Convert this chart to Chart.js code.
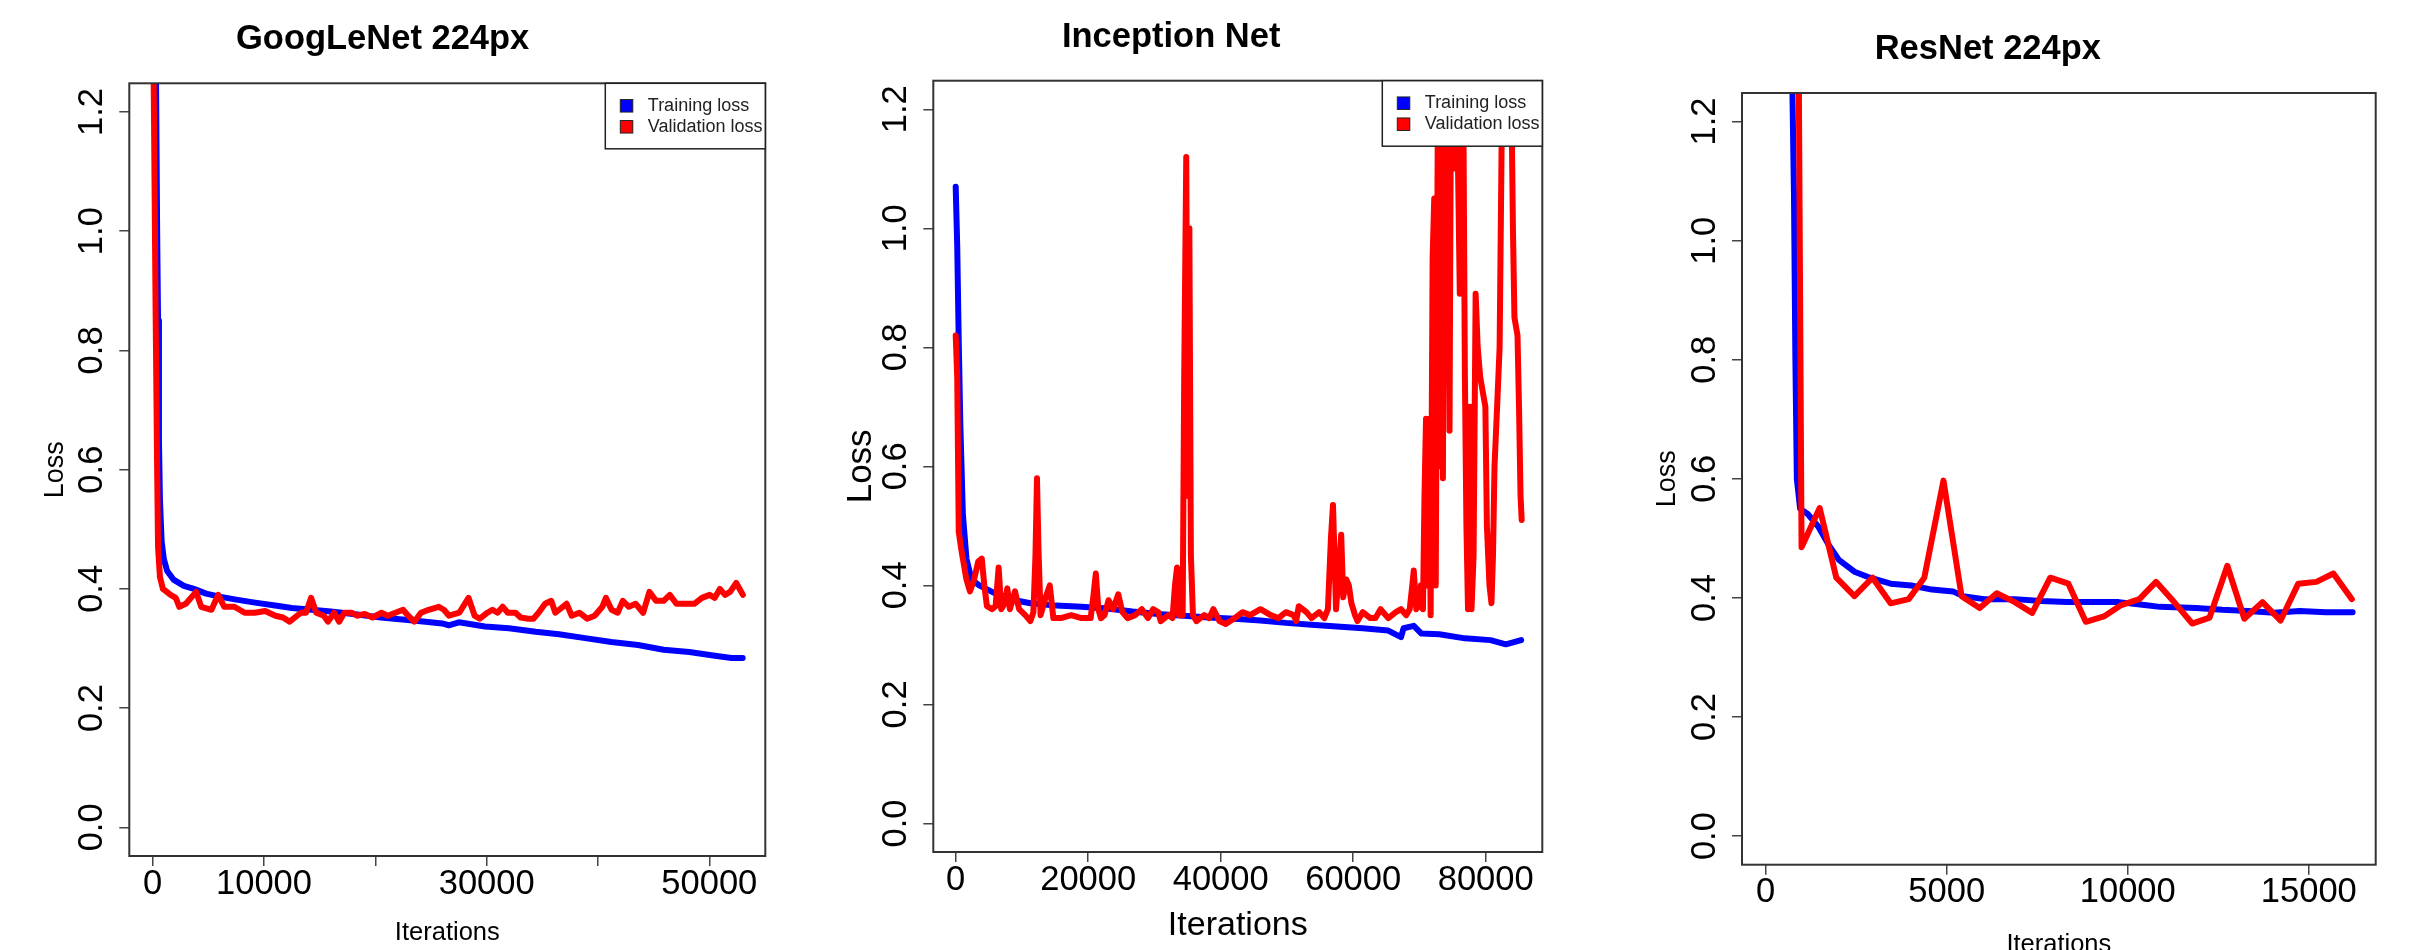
<!DOCTYPE html>
<html>
<head>
<meta charset="utf-8">
<title>Loss curves</title>
<script src="https://cdn.jsdelivr.net/npm/chart.js@4.4.0/dist/chart.umd.min.js"></script>
<style>
  html, body { margin: 0; padding: 0; background: #fff; overflow: hidden; }
  #wrap { position: relative; width: 2413px; height: 950px; }
  canvas { position: absolute; top: 0; }
</style>
</head>
<body>
<div id="wrap">
  <canvas id="c_googlenet" width="800" height="950" style="left:0px"></canvas>
  <canvas id="c_inception" width="800" height="950" style="left:800px"></canvas>
  <canvas id="c_resnet" width="813" height="950" style="left:1600px"></canvas>
</div>
<script>
// ---- data ----
var seriesNames = ['Training loss', 'Validation loss'];

var yTicks = [0, 0.2, 0.4, 0.6, 0.8, 1.0, 1.2];
var yTickLabels = ['0.0', '0.2', '0.4', '0.6', '0.8', '1.0', '1.2'];

// GoogLeNet 224px
var googXTicks = [0, 10000, 20000, 30000, 40000, 50000];
var googXLabels = ['0', '10000', '', '30000', '', '50000'];
var googTrainIter = [0, 300, 400, 480, 560, 650, 800, 1000, 1300, 1900, 2800, 3700, 4800, 6000, 7500, 9200, 11000, 12500, 13800, 16000, 18400, 20500, 22900, 24500, 26000, 26600, 27500, 29850, 32000, 34400, 36500, 39000, 41200, 43600, 45900, 48200, 50500, 52000, 53000];
var googTrain = [2.0, 1.25, 1.0, 0.85, 0.65, 0.55, 0.48, 0.45, 0.43, 0.415, 0.405, 0.40, 0.392, 0.387, 0.382, 0.377, 0.372, 0.368, 0.366, 0.362, 0.357, 0.352, 0.348, 0.345, 0.342, 0.339, 0.344, 0.337, 0.334, 0.328, 0.324, 0.317, 0.311, 0.306, 0.298, 0.294, 0.288, 0.284, 0.284];
var googValIter = [0, 250, 400, 480, 650, 920, 1610, 2070, 2390, 2980, 3900, 4360, 5280, 5880, 6430, 7340, 8260, 9180, 10100, 11020, 11710, 12300, 13310, 13770, 14230, 14690, 15380, 15740, 16300, 16750, 17210, 17900, 18360, 19050, 19740, 20560, 21110, 21800, 22490, 22950, 23500, 24100, 24790, 25700, 26160, 26620, 27540, 28370, 28920, 29380, 30070, 30520, 30980, 31440, 31900, 32590, 33050, 33740, 34200, 34660, 35250, 35800, 36170, 37180, 37640, 38330, 39020, 39700, 40390, 40710, 41220, 41770, 42230, 42780, 43380, 44060, 44620, 45210, 45900, 46450, 47050, 47970, 48650, 49340, 50030, 50490, 50950, 51410, 51870, 52420, 53020];
var googVal = [1.45, 0.89, 0.6, 0.47, 0.42, 0.40, 0.39, 0.385, 0.37, 0.375, 0.395, 0.37, 0.365, 0.39, 0.37, 0.37, 0.36, 0.36, 0.363, 0.355, 0.352, 0.345, 0.36, 0.36, 0.385, 0.36, 0.355, 0.345, 0.36, 0.345, 0.36, 0.36, 0.355, 0.358, 0.352, 0.36, 0.355, 0.36, 0.365, 0.355, 0.345, 0.36, 0.365, 0.37, 0.365, 0.355, 0.36, 0.385, 0.355, 0.35, 0.36, 0.365, 0.36, 0.37, 0.36, 0.36, 0.352, 0.35, 0.35, 0.36, 0.375, 0.38, 0.36, 0.375, 0.355, 0.36, 0.35, 0.355, 0.37, 0.385, 0.365, 0.36, 0.38, 0.37, 0.375, 0.36, 0.395, 0.38, 0.38, 0.39, 0.375, 0.375, 0.375, 0.385, 0.39, 0.385, 0.40, 0.39, 0.395, 0.41, 0.39];

// Inception Net
var incXTicks = [0, 20000, 40000, 60000, 80000];
var incXLabels = ['0', '20000', '40000', '60000', '80000'];
var incTrainIter = [0, 230, 460, 700, 1080, 1620, 2390, 3550, 5870, 8950, 11270, 15130, 18980, 22840, 26700, 30560, 34420, 38280, 42130, 46000, 49850, 53710, 57570, 61430, 65290, 67220, 67600, 69140, 70300, 73000, 76860, 80720, 83040, 85350];
var incTrain = [1.07, 0.97, 0.81, 0.67, 0.52, 0.445, 0.41, 0.40, 0.387, 0.375, 0.37, 0.366, 0.364, 0.361, 0.356, 0.352, 0.349, 0.346, 0.344, 0.341, 0.337, 0.334, 0.331, 0.328, 0.324, 0.313, 0.328, 0.332, 0.319, 0.318, 0.311, 0.308, 0.301, 0.308];
var incValIter = [0, 230, 460, 850, 1620, 2160, 2780, 3400, 3935, 4320, 4710, 5480, 6020, 6480, 6870, 7410, 7790, 8180, 8950, 9570, 10500, 11270, 11730, 12040, 12270, 12500, 12810, 13580, 14200, 14740, 15900, 17440, 18980, 20370, 20760, 21150, 21530, 21920, 22460, 23070, 23770, 24540, 25160, 25930, 27090, 28090, 29020, 29790, 30560, 30950, 32100, 32720, 33100, 33410, 33720, 34260, 34490, 34800, 35030, 35270, 35500, 35810, 36350, 37510, 38280, 38890, 39820, 40750, 42130, 43290, 44450, 46000, 47540, 48700, 49850, 51010, 51400, 51780, 52940, 53710, 54870, 55640, 56180, 56640, 56950, 57410, 57800, 58190, 58490, 58960, 59340, 59730, 60270, 60650, 61430, 62580, 63360, 64130, 65290, 66440, 67220, 67990, 68530, 68920, 69140, 69530, 69910, 70220, 70530, 70760, 70990, 71220, 71450, 71690, 71990, 72230, 72460, 72690, 72850, 73080, 73310, 73540, 73770, 74000, 74230, 74540, 74780, 75080, 75390, 75700, 76090, 76400, 76630, 76860, 77090, 77330, 77630, 77860, 78170, 78480, 78790, 79170, 79640, 79950, 80180, 80570, 80870, 81100, 81330, 81720, 82100, 82410, 82800, 83340, 83800, 84110, 84340, 84800, 85030, 85260, 85430];
var incVal = [0.82, 0.75, 0.49, 0.46, 0.41, 0.39, 0.41, 0.44, 0.445, 0.40, 0.365, 0.36, 0.365, 0.43, 0.36, 0.37, 0.395, 0.36, 0.39, 0.36, 0.35, 0.34, 0.355, 0.45, 0.58, 0.46, 0.35, 0.38, 0.40, 0.345, 0.345, 0.35, 0.345, 0.345, 0.38, 0.42, 0.36, 0.345, 0.35, 0.375, 0.36, 0.385, 0.355, 0.345, 0.35, 0.36, 0.345, 0.36, 0.355, 0.34, 0.35, 0.345, 0.40, 0.43, 0.35, 0.35, 0.75, 1.12, 0.55, 1.0, 0.45, 0.35, 0.34, 0.35, 0.345, 0.36, 0.34, 0.335, 0.345, 0.355, 0.35, 0.36, 0.35, 0.345, 0.355, 0.35, 0.34, 0.365, 0.355, 0.345, 0.355, 0.345, 0.36, 0.48, 0.535, 0.36, 0.42, 0.485, 0.38, 0.41, 0.40, 0.37, 0.35, 0.34, 0.355, 0.345, 0.345, 0.36, 0.345, 0.355, 0.36, 0.35, 0.36, 0.40, 0.425, 0.36, 0.365, 0.40, 0.36, 0.55, 0.68, 0.40, 0.68, 0.35, 0.95, 1.05, 0.40, 1.0, 1.35, 0.60, 1.3, 0.58, 1.3, 1.1, 1.3, 0.66, 1.3, 1.1, 1.3, 1.2, 0.89, 1.3, 1.2, 0.75, 0.50, 0.36, 0.70, 0.36, 0.45, 0.89, 0.80, 0.75, 0.72, 0.70, 0.50, 0.40, 0.37, 0.45, 0.60, 0.70, 0.80, 1.15, 1.3, 1.3, 1.3, 1.0, 0.85, 0.82, 0.70, 0.55, 0.51];

// ResNet 224px
var resXTicks = [0, 5000, 10000, 15000];
var resXLabels = ['0', '5000', '10000', '15000'];
var resTrainIter = [700, 780, 820, 860, 950, 1160, 1450, 1730, 2020, 2450, 2880, 3450, 4020, 4590, 5170, 5450, 6030, 6880, 7600, 8310, 9030, 9750, 10460, 10890, 11890, 12610, 13320, 14040, 14750, 15470, 16210];
var resTrain = [1.4, 1.08, 0.80, 0.60, 0.55, 0.541, 0.52, 0.49, 0.464, 0.444, 0.434, 0.424, 0.421, 0.414, 0.411, 0.403, 0.398, 0.398, 0.395, 0.393, 0.393, 0.393, 0.388, 0.385, 0.383, 0.38, 0.378, 0.375, 0.378, 0.376, 0.376];
var resValIter = [900, 990, 1490, 1950, 2450, 2950, 3450, 3950, 4380, 4910, 5410, 5910, 6380, 6880, 7360, 7860, 8360, 8840, 9340, 9820, 10320, 10780, 11280, 11780, 12260, 12750, 13220, 13720, 14220, 14710, 15210, 15680, 16190];
var resVal = [1.42, 0.485, 0.551, 0.434, 0.403, 0.434, 0.391, 0.398, 0.434, 0.597, 0.403, 0.383, 0.408, 0.393, 0.375, 0.434, 0.424, 0.36, 0.369, 0.388, 0.398, 0.427, 0.393, 0.357, 0.367, 0.454, 0.365, 0.393, 0.362, 0.424, 0.427, 0.441, 0.398];

// ---- drawing ----
var FONT = "'Liberation Sans', Arial, Helvetica, sans-serif";
Chart.defaults.font.family = FONT;
Chart.defaults.color = '#000';

function pts(xs, ys) {
  return xs.map(function(x, i) { return { x: x, y: ys[i] }; });
}

// R style box round the plot region, plus the filled-square legend
var boxPlugin = {
  id: 'rbox',
  afterDraw: function(chart, args, opts) {
    var a = chart.chartArea;
    var ctx = chart.ctx;
    ctx.save();
    ctx.strokeStyle = '#333';
    ctx.lineWidth = 2;
    ctx.strokeRect(a.left, a.top, a.right - a.left, a.bottom - a.top);
    if (opts.legend) {
      var w = 160, h = 65.5;
      var x0 = a.right - w, y0 = a.top;
      ctx.fillStyle = '#fff';
      ctx.fillRect(x0, y0, w, h);
      ctx.lineWidth = 1.5;
      ctx.strokeStyle = '#222';
      ctx.strokeRect(x0, y0, w, h);
      ctx.font = '18px ' + FONT;
      ctx.textBaseline = 'middle';
      ctx.textAlign = 'left';
      chart.data.datasets.forEach(function(ds, i) {
        var cy = y0 + 22.5 + i * 21;
        ctx.fillStyle = ds.borderColor;
        ctx.fillRect(x0 + 15, cy - 6.25, 12.5, 12.5);
        ctx.lineWidth = 1;
        ctx.strokeStyle = '#222';
        ctx.strokeRect(x0 + 15, cy - 6.25, 12.5, 12.5);
        ctx.fillStyle = '#222';
        ctx.fillText(ds.label, x0 + 42.5, cy);
      });
    }
    ctx.restore();
  }
};

function makeChart(id, p) {
  var tickGrid = {
    drawOnChartArea: false,
    drawTicks: true,
    tickLength: 10,
    lineWidth: 1.5,
    color: '#444'
  };
  return new Chart(document.getElementById(id), {
    type: 'line',
    data: {
      datasets: [{
        label: seriesNames[0],
        data: pts(p.trainX, p.trainY),
        borderColor: '#0000ff',
        borderWidth: 6,
        order: 2
      }, {
        label: seriesNames[1],
        data: pts(p.valX, p.valY),
        borderColor: '#ff0000',
        borderWidth: 6,
        order: 1
      }]
    },
    options: {
      responsive: false,
      animation: false,
      events: [],
      layout: { padding: { left: 0, right: p.padRight, top: 0, bottom: 0 } },
      elements: {
        point: { radius: 0 },
        line: { tension: 0, borderJoinStyle: 'round', borderCapStyle: 'round', fill: false }
      },
      datasets: { line: { clip: 0 } },
      plugins: {
        legend: { display: false },
        tooltip: { enabled: false },
        title: {
          display: true,
          text: p.title,
          color: '#000',
          font: { size: 34.5, weight: 'bold' },
          padding: { top: p.titleTop, bottom: p.titleBottom }
        },
        rbox: { legend: p.legend }
      },
      scales: {
        x: {
          type: 'linear',
          min: p.xMin,
          max: p.xMax,
          border: { display: false },
          grid: tickGrid,
          afterBuildTicks: function(s) { s.ticks = p.xTicks.map(function(v) { return { value: v }; }); },
          afterFit: function(s) { s.height = p.xHeight; },
          ticks: {
            autoSkip: false,
            maxRotation: 0,
            minRotation: 0,
            padding: -2.7,
            color: '#000',
            font: { size: 34.5 },
            callback: function(v, i) { return p.xLabels[i]; }
          },
          title: {
            display: true,
            text: 'Iterations',
            color: '#000',
            font: { size: p.xTitleSize },
            padding: { top: 0, bottom: p.xTitlePad }
          }
        },
        y: {
          type: 'linear',
          min: -0.048,
          max: 1.248,
          border: { display: false },
          grid: tickGrid,
          afterBuildTicks: function(s) { s.ticks = yTicks.map(function(v) { return { value: v }; }); },
          afterFit: function(s) { s.width = p.yWidth; },
          ticks: {
            autoSkip: false,
            minRotation: 90,
            maxRotation: 90,
            crossAlign: 'center',
            padding: 2.5,
            color: '#000',
            font: { size: 34.5 },
            callback: function(v, i) { return yTickLabels[i]; }
          },
          title: {
            display: true,
            text: 'Loss',
            color: '#000',
            font: { size: p.yTitleSize },
            padding: { top: p.yTitlePad, bottom: 0 }
          }
        }
      }
    },
    plugins: [boxPlugin]
  });
}

makeChart('c_googlenet', {
  title: 'GoogLeNet 224px',
  trainX: googTrainIter, trainY: googTrain, valX: googValIter, valY: googVal,
  xTicks: googXTicks, xLabels: googXLabels, xMin: -2102, xMax: 55031,
  yWidth: 129.3, padRight: 34.7, xHeight: 94,
  titleTop: 19.05, titleBottom: 22.85,
  yTitleSize: 27, yTitlePad: 39.4, xTitleSize: 25.5, xTitlePad: 1.7,
  legend: true
});

makeChart('c_inception', {
  title: 'Inception Net',
  trainX: incTrainIter, trainY: incTrain, valX: incValIter, valY: incVal,
  xTicks: incXTicks, xLabels: incXLabels, xMin: -3381, xMax: 88543,
  yWidth: 133.3, padRight: 57.7, xHeight: 98,
  titleTop: 16.65, titleBottom: 22.65,
  yTitleSize: 35, yTitlePad: 40, xTitleSize: 34, xTitlePad: 4.1,
  legend: true
});

makeChart('c_resnet', {
  title: 'ResNet 224px',
  trainX: resTrainIter, trainY: resTrain, valX: resValIter, valY: resVal,
  xTicks: resXTicks, xLabels: resXLabels, xMin: -655, xMax: 16848,
  yWidth: 142, padRight: 37.3, xHeight: 85.3,
  titleTop: 29.05, titleBottom: 22.55,
  yTitleSize: 27, yTitlePad: 51.8, xTitleSize: 25.5, xTitlePad: -10,
  legend: false
});
</script>
</body>
</html>
